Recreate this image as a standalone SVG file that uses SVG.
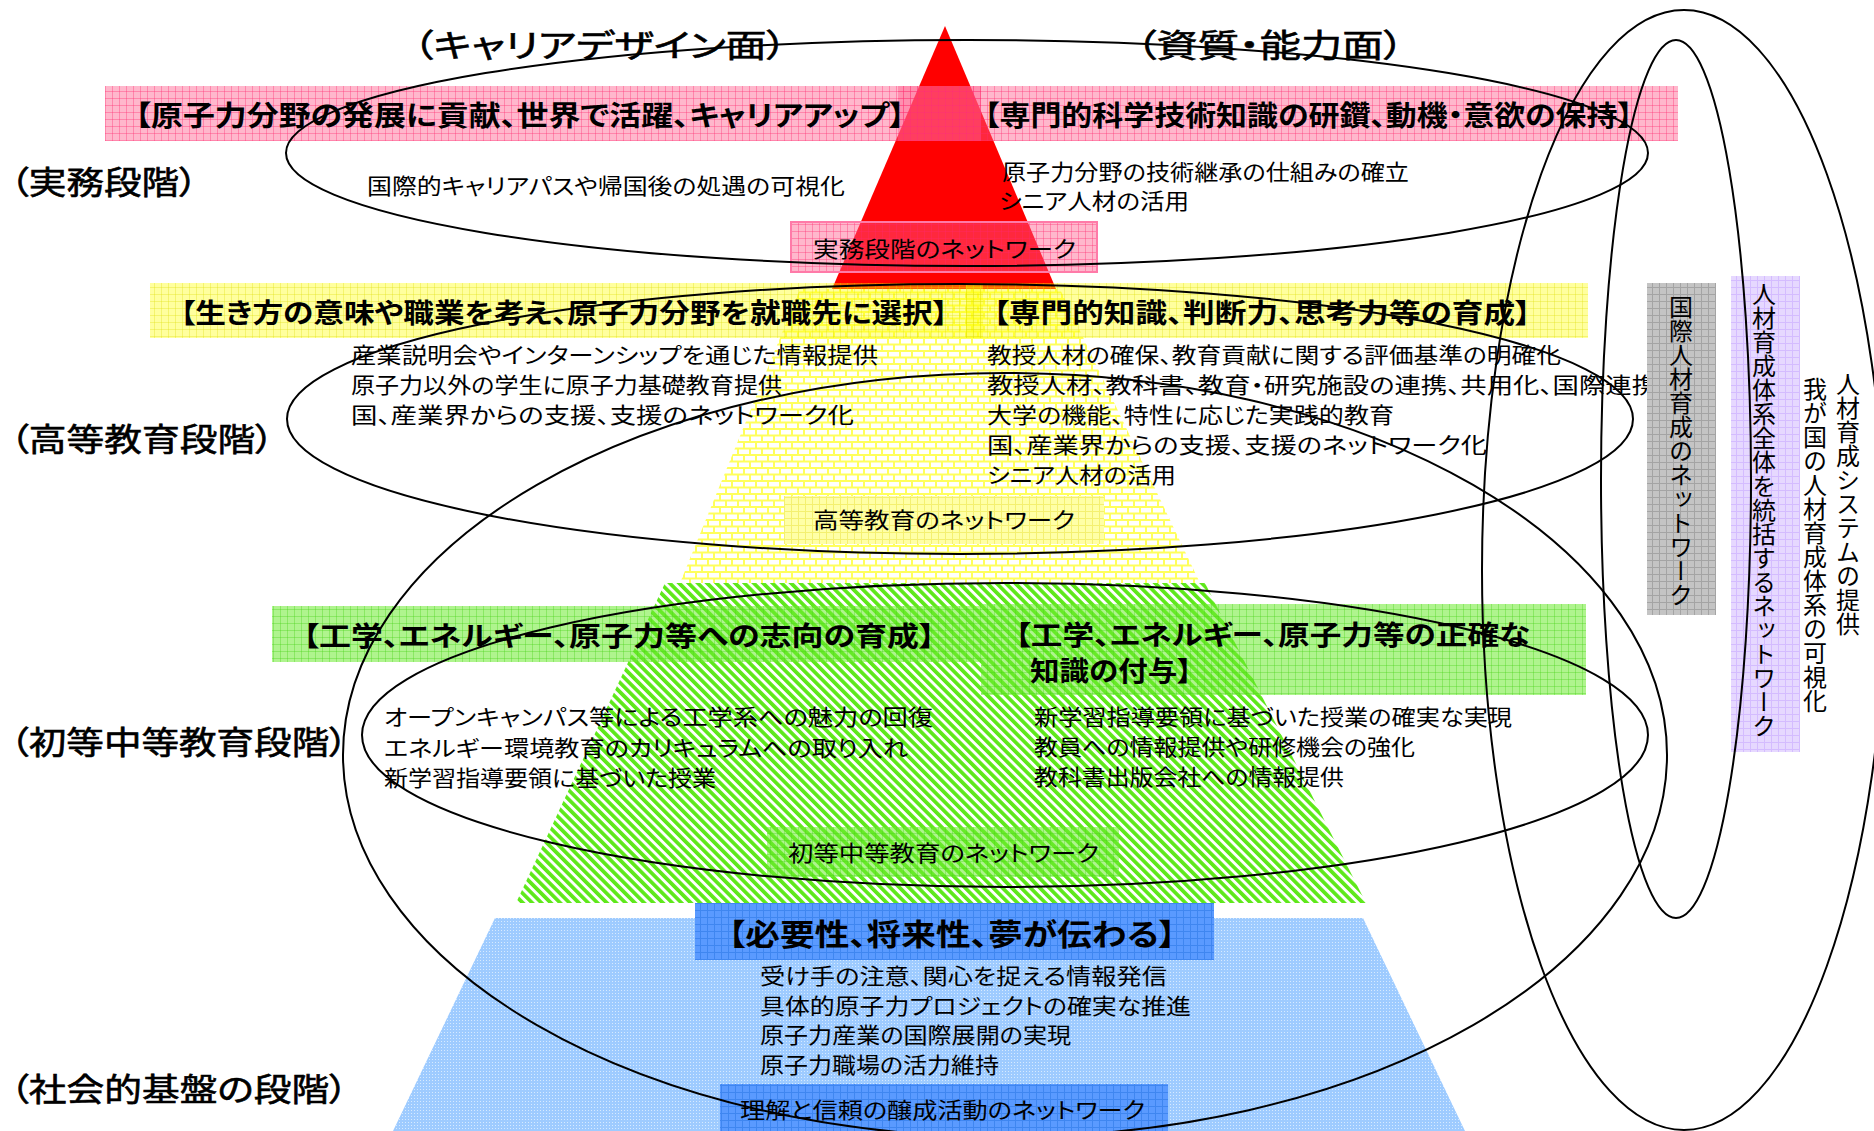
<svg xmlns="http://www.w3.org/2000/svg" width="1874" height="1131" viewBox="0 0 1874 1131">
<defs>
<style>
text{font-family:"Noto Sans CJK JP","Noto Sans CJK SC",sans-serif;font-feature-settings:"palt";dominant-baseline:central;fill:#000}
.t{font-size:32px;stroke:#000;stroke-width:0.6}
.h{font-size:27px;font-weight:bold}
.b{font-size:22px}
.v{font-size:24px;writing-mode:vertical-rl;font-feature-settings:normal}
.ell{fill:none;stroke:#000;stroke-width:2}
</style>
<pattern id="gPink" width="7" height="7" patternUnits="userSpaceOnUse">
<rect width="7" height="7" fill="rgba(255,90,140,0.44)"/>
<path d="M0 0.5H7M0.5 0V7" stroke="rgba(255,40,110,0.35)" stroke-width="1"/>
</pattern>
<pattern id="gYel" width="7" height="7" patternUnits="userSpaceOnUse">
<rect width="7" height="7" fill="rgba(255,255,0,0.38)"/>
<path d="M0 0.5H7M0.5 0V7" stroke="rgba(220,220,0,0.3)" stroke-width="1"/>
</pattern>
<pattern id="gYelBox" width="7" height="7" patternUnits="userSpaceOnUse">
<rect width="7" height="7" fill="#ffffa6"/>
<path d="M0 0.5H7M0.5 0V7" stroke="#f4f070" stroke-width="1"/>
</pattern>
<pattern id="gGrn" width="7" height="7" patternUnits="userSpaceOnUse">
<rect width="7" height="7" fill="rgba(110,235,50,0.55)"/>
<path d="M0 0.5H7M0.5 0V7" stroke="rgba(70,210,20,0.35)" stroke-width="1"/>
</pattern>
<pattern id="gBlu" width="7" height="7" patternUnits="userSpaceOnUse">
<rect width="7" height="7" fill="#5a9aff"/>
<path d="M0 0.5H7M0.5 0V7" stroke="#3f86f0" stroke-width="1"/>
</pattern>
<pattern id="gGray" width="7" height="7" patternUnits="userSpaceOnUse">
<rect width="7" height="7" fill="#c4c4c4"/>
<path d="M0 0.5H7M0.5 0V7" stroke="#a4a4a4" stroke-width="1"/>
</pattern>
<pattern id="gPur" width="7" height="7" patternUnits="userSpaceOnUse">
<rect width="7" height="7" fill="#e6d8ff"/>
<path d="M0 0.5H7M0.5 0V7" stroke="#d4bcff" stroke-width="1"/>
</pattern>
<pattern id="brick" width="12" height="13" patternUnits="userSpaceOnUse">
<rect width="12" height="13" fill="#ffff5c"/>
<rect x="1" y="1" width="10" height="4.5" fill="#fff"/>
<rect x="7" y="7.5" width="10" height="4.5" fill="#fff"/>
<rect x="-5" y="7.5" width="10" height="4.5" fill="#fff"/>
</pattern>
<pattern id="hatch" width="6.6" height="6.6" patternUnits="userSpaceOnUse" patternTransform="rotate(-45)">
<rect width="6.6" height="6.6" fill="#fff"/>
<rect width="3.7" height="6.6" fill="#5ee81a"/>
</pattern>
<pattern id="dots" width="3" height="3" patternUnits="userSpaceOnUse">
<rect width="3" height="3" fill="#9ecbff"/>
<rect width="1" height="1" fill="#d6eaff"/>
</pattern>
</defs>
<rect width="1874" height="1131" fill="#fff"/>

<g id="pyramid">
<polygon id="layer-social" points="495,918 1363,918 1465,1131 393,1131" fill="url(#dots)"/>
<polygon id="layer-primary" points="665,583 1205,583 1366,903 516,903" fill="url(#hatch)"/>
<polygon id="layer-higher" points="800,289 1060,289 1200,583 680,583" fill="url(#brick)"/>
<polygon id="layer-practice" points="945,26 832,289 1056,289" fill="#ff0000"/>
</g>

<g id="titles">
<text class="t" x="413" y="43" textLength="374" lengthAdjust="spacingAndGlyphs">（キャリアデザイン面）</text>
<text class="t" x="1136" y="43" textLength="268" lengthAdjust="spacingAndGlyphs">（資質・能力面）</text>
</g>

<g id="stage-labels">
<text class="t" x="10" y="180" textLength="188" lengthAdjust="spacingAndGlyphs">（実務段階）</text>
<text class="t" x="10" y="437" textLength="264" lengthAdjust="spacingAndGlyphs">（高等教育段階）</text>
<text class="t" x="10" y="740" textLength="338" lengthAdjust="spacingAndGlyphs">（初等中等教育段階）</text>
<text class="t" x="10" y="1087" textLength="338" lengthAdjust="spacingAndGlyphs">（社会的基盤の段階）</text>
</g>

<g id="node-practice">
<rect x="105" y="86" width="876" height="55" fill="url(#gPink)"/>
<rect x="898" y="86" width="780" height="55" fill="url(#gPink)"/>
<rect x="791" y="222" width="306" height="50" fill="url(#gPink)" stroke="#ff7aa8" stroke-width="2"/>
<text class="h" style="font-size:28px" x="135" y="114" textLength="770" lengthAdjust="spacingAndGlyphs">【原子力分野の発展に貢献、世界で活躍、キャリアアップ】</text>
<text class="h" style="font-size:28px" x="984" y="114" textLength="649" lengthAdjust="spacingAndGlyphs">【専門的科学技術知識の研鑽、動機・意欲の保持】</text>
<text class="b" x="367" y="184" textLength="478" lengthAdjust="spacingAndGlyphs">国際的キャリアパスや帰国後の処遇の可視化</text>
<text class="b" x="1002" y="170" textLength="407" lengthAdjust="spacingAndGlyphs">原子力分野の技術継承の仕組みの確立</text>
<text class="b" x="999" y="199" textLength="190" lengthAdjust="spacingAndGlyphs">シニア人材の活用</text>
<text class="b" x="813" y="247" textLength="263" lengthAdjust="spacingAndGlyphs">実務段階のネットワーク</text>
</g>

<g id="node-higher">
<rect x="150" y="283" width="833" height="55" fill="url(#gYel)"/>
<rect x="966" y="283" width="622" height="55" fill="url(#gYel)"/>
<rect x="784" y="496" width="320" height="48" fill="url(#gYelBox)"/>
<text class="h" x="180" y="311" textLength="768" lengthAdjust="spacingAndGlyphs">【生き方の意味や職業を考え、原子力分野を就職先に選択】</text>
<text class="h" x="993" y="311" textLength="538" lengthAdjust="spacingAndGlyphs">【専門的知識、判断力、思考力等の育成】</text>
<text class="b" x="351" y="353" textLength="527" lengthAdjust="spacingAndGlyphs">産業説明会やインターンシップを通じた情報提供</text>
<text class="b" x="351" y="383" textLength="431" lengthAdjust="spacingAndGlyphs">原子力以外の学生に原子力基礎教育提供</text>
<text class="b" x="351" y="413" textLength="503" lengthAdjust="spacingAndGlyphs">国、産業界からの支援、支援のネットワーク化</text>
<text class="b" x="987" y="353" textLength="574" lengthAdjust="spacingAndGlyphs">教授人材の確保、教育貢献に関する評価基準の明確化</text>
<text class="b" x="987" y="383" textLength="671" lengthAdjust="spacingAndGlyphs">教授人材、教科書、教育・研究施設の連携、共用化、国際連携</text>
<text class="b" x="987" y="413" textLength="407" lengthAdjust="spacingAndGlyphs">大学の機能、特性に応じた実践的教育</text>
<text class="b" x="987" y="443" textLength="500" lengthAdjust="spacingAndGlyphs">国、産業界からの支援、支援のネットワーク化</text>
<text class="b" x="987" y="473" textLength="189" lengthAdjust="spacingAndGlyphs">シニア人材の活用</text>
<text class="b" x="813" y="518" textLength="262" lengthAdjust="spacingAndGlyphs">高等教育のネットワーク</text>
</g>

<g id="node-primary">
<rect x="272" y="606" width="709" height="56" fill="url(#gGrn)"/>
<rect x="981" y="604" width="605" height="91" fill="url(#gGrn)"/>
<rect x="767" y="827" width="352" height="50" fill="url(#gGrn)"/>
<text class="h" x="303" y="634" textLength="632" lengthAdjust="spacingAndGlyphs">【工学、エネルギー、原子力等への志向の育成】</text>
<text class="h" x="1015" y="633" textLength="515" lengthAdjust="spacingAndGlyphs">【工学、エネルギー、原子力等の正確な</text>
<text class="h" x="1030" y="669" textLength="162" lengthAdjust="spacingAndGlyphs">知識の付与】</text>
<text class="b" x="384" y="715" textLength="549" lengthAdjust="spacingAndGlyphs">オープンキャンパス等による工学系への魅力の回復</text>
<text class="b" x="384" y="746" textLength="524" lengthAdjust="spacingAndGlyphs">エネルギー環境教育のカリキュラムへの取り入れ</text>
<text class="b" x="384" y="776" textLength="332" lengthAdjust="spacingAndGlyphs">新学習指導要領に基づいた授業</text>
<text class="b" x="1034" y="715" textLength="478" lengthAdjust="spacingAndGlyphs">新学習指導要領に基づいた授業の確実な実現</text>
<text class="b" x="1034" y="745" textLength="381" lengthAdjust="spacingAndGlyphs">教員への情報提供や研修機会の強化</text>
<text class="b" x="1034" y="775" textLength="310" lengthAdjust="spacingAndGlyphs">教科書出版会社への情報提供</text>
<text class="b" x="788" y="851" textLength="311" lengthAdjust="spacingAndGlyphs">初等中等教育のネットワーク</text>
</g>

<g id="node-social">
<rect x="695" y="903" width="519" height="57" fill="url(#gBlu)"/>
<rect x="720" y="1084" width="448" height="47" fill="url(#gBlu)"/>
<text class="h" style="font-size:30px" x="728" y="932" textLength="448" lengthAdjust="spacingAndGlyphs">【必要性、将来性、夢が伝わる】</text>
<text class="b" x="760" y="974" textLength="407" lengthAdjust="spacingAndGlyphs">受け手の注意、関心を捉える情報発信</text>
<text class="b" x="760" y="1004" textLength="431" lengthAdjust="spacingAndGlyphs">具体的原子力プロジェクトの確実な推進</text>
<text class="b" x="760" y="1033" textLength="311" lengthAdjust="spacingAndGlyphs">原子力産業の国際展開の実現</text>
<text class="b" x="760" y="1063" textLength="239" lengthAdjust="spacingAndGlyphs">原子力職場の活力維持</text>
<text class="b" x="740" y="1108" textLength="405" lengthAdjust="spacingAndGlyphs">理解と信頼の醸成活動のネットワーク</text>
</g>

<g id="node-intl">
<rect x="1647" y="283" width="69" height="332" fill="url(#gGray)"/>
<text class="v" x="1681" y="295">国際人材育成のネットワーク</text>
</g>

<g id="node-overall">
<rect x="1731" y="276" width="69" height="476" fill="url(#gPur)"/>
<text class="v" x="1764" y="282">人材育成体系全体を統括するネットワーク</text>
</g>

<g id="node-system">
<text class="v" x="1848" y="372">人材育成システムの提供</text>
<text class="v" x="1815" y="377">我が国の人材育成体系の可視化</text>
</g>

<g id="connectors">
<ellipse class="ell" cx="967" cy="153" rx="681" ry="113"/>
<ellipse class="ell" cx="960" cy="419" rx="673" ry="135"/>
<ellipse class="ell" cx="1005" cy="735" rx="643" ry="152"/>
<ellipse class="ell" cx="1005" cy="755" rx="662" ry="382"/>
<ellipse class="ell" cx="1684" cy="570" rx="202" ry="560"/>
<ellipse class="ell" cx="1676" cy="479" rx="75" ry="439"/>
</g>
</svg>
